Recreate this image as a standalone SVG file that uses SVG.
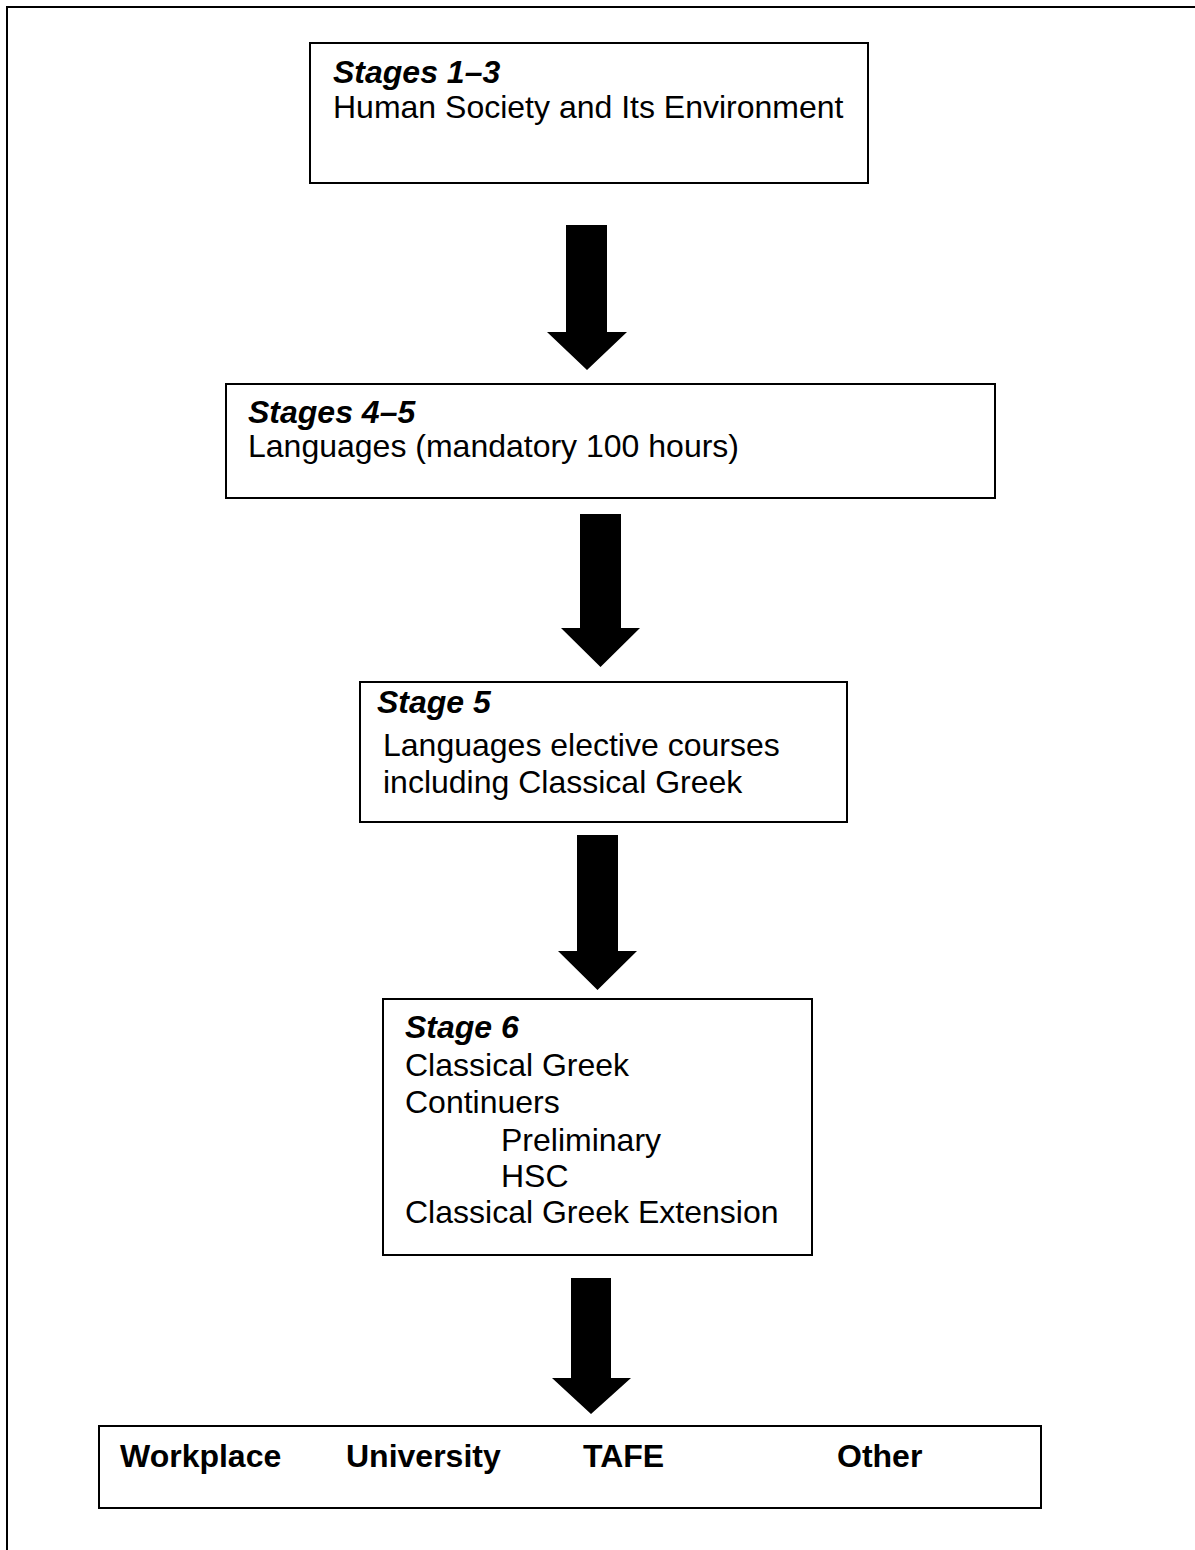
<svg xmlns="http://www.w3.org/2000/svg" width="1195" height="1550" viewBox="0 0 1195 1550">
<style>
.box{fill:#fff;stroke:#000;stroke-width:2}
.t{font-family:"Liberation Sans",Arial,sans-serif;font-size:32px;fill:#000}
.h{font-weight:bold;font-style:italic}
.b{font-weight:bold}
.arr{fill:#000}
</style>
<rect x="0" y="0" width="1195" height="1550" fill="#fff"/>
<path d="M7,1551 V7 H1196" fill="none" stroke="#000" stroke-width="2"/>
<g id="connectors">
<polygon class="arr" points="566,225 607,225 607,332 627,332 587,370 547,332 566,332"/>
<polygon class="arr" points="580,514 621,514 621,628 640,628 600.5,667 561,628 580,628"/>
<polygon class="arr" points="577,835 618,835 618,951 637,951 597.5,990 558,951 577,951"/>
<polygon class="arr" points="571,1278 611,1278 611,1378 631,1378 591,1414 552,1378 571,1378"/>
</g>
<g id="node-stages-1-3">
<rect class="box" x="310" y="43" width="558" height="140"/>
<text class="t h" x="333" y="83">Stages 1–3</text>
<text class="t" x="333" y="118">Human Society and Its Environment</text>
</g>
<g id="node-stages-4-5">
<rect class="box" x="226" y="384" width="769" height="114"/>
<text class="t h" x="248" y="423">Stages 4–5</text>
<text class="t" x="248" y="457">Languages (mandatory 100 hours)</text>
</g>
<g id="node-stage-5">
<rect class="box" x="360" y="682" width="487" height="140"/>
<text class="t h" x="377" y="713">Stage 5</text>
<text class="t" x="383" y="756">Languages elective courses</text>
<text class="t" x="383" y="793">including Classical Greek</text>
</g>
<g id="node-stage-6">
<rect class="box" x="383" y="999" width="429" height="256"/>
<text class="t h" x="405" y="1038">Stage 6</text>
<text class="t" x="405" y="1076">Classical Greek</text>
<text class="t" x="405" y="1113">Continuers</text>
<text class="t" x="501" y="1151">Preliminary</text>
<text class="t" x="501" y="1187">HSC</text>
<text class="t" x="405" y="1223">Classical Greek Extension</text>
</g>
<g id="node-destinations">
<rect class="box" x="99" y="1426" width="942" height="82"/>
<text class="t b" x="120" y="1467">Workplace</text>
<text class="t b" x="346" y="1467">University</text>
<text class="t b" x="583" y="1467">TAFE</text>
<text class="t b" x="837" y="1467">Other</text>
</g>
</svg>
